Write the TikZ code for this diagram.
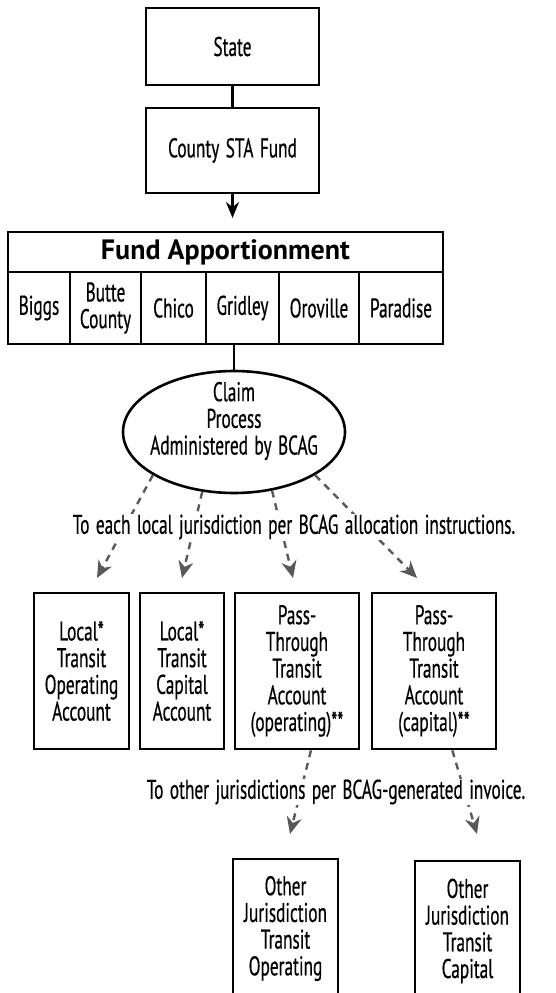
\documentclass[tikz,border=0pt]{standalone}
\usepackage{fontspec}
\setmainfont{PT Sans}[FakeStretch=0.64, FakeBold=0.5, WordSpace=1.4]
\newfontfamily\headfont{PT Sans}
\usetikzlibrary{shapes.geometric,arrows.meta}

\tikzset{
  box/.style={draw, line width=2.6pt, align=center, inner sep=0pt},
  cell/.style={box, minimum height=72},
  flow/.style={line width=2.6pt, -{Stealth[length=16pt,width=13pt]}},
  pass/.style={draw=black!65, line width=2.4pt, dash pattern=on 7pt off 6pt, -{Stealth[length=17pt,width=15pt]}},
  note/.style={fill=white, inner sep=1pt}
}

\begin{document}
\begin{tikzpicture}[x=1pt, y=-1pt, every node/.style={font=\fontsize{27}{26.7}\selectfont}]
  \useasboundingbox (0,0) rectangle (555,993);
  \clip (0,0) rectangle (555,993);

  \node[box, minimum width=173, minimum height=77] (state) at (232.5,46.5) {State};
  \node[box, minimum width=173, minimum height=85] (county) at (232.5,150.5) {County STA Fund};
  \coordinate (fundin) at (232.5,218);
  \draw[line width=2.6pt] (state) -- (county);
  \draw[flow] (county) -- (fundin);

  \node[box, minimum width=435, minimum height=40, font=\headfont\bfseries\fontsize{28}{30}\selectfont] (fund) at (225.5,252) {Fund Apportionment};
  \foreach \n/\cx/\w/\txt in {biggs/39/62/Biggs, butte/105.5/71/{Butte\\County}, chico/173.5/65/Chico,
      gridley/242.5/73/Gridley, oroville/319/80/Oroville, paradise/401/84/Paradise} {
    \node[cell, minimum width=\w] (\n) at (\cx,308) {\txt};
  }

  \node[draw, ellipse, line width=2.6pt, minimum width=222, minimum height=122] (claim) at (234,432) {};
  \node[align=center, inner sep=0pt] (claimtext) at (234,421) {Claim\\Process\\Administered by BCAG};
  \draw[line width=2.6pt] (gridley.south -| claim.north) -- (claim.north);

  \node[box, minimum width=95, minimum height=156] (locop) at (81.5,671) {Local*\\Transit\\Operating\\Account};
  \node[box, minimum width=84, minimum height=156] (locap) at (182,671) {Local*\\Transit\\Capital\\Account};
  \node[box, minimum width=124, minimum height=156] (passop) at (297,671) {Pass-\\Through\\Transit\\Account\\(operating)**};
  \node[box, minimum width=124, minimum height=156] (passcap) at (434,671) {Pass-\\Through\\Transit\\Account\\(capital)**};

  \node[box, minimum width=105, minimum height=139] (otherop) at (285.5,928.5) {Other\\Jurisdiction\\Transit\\Operating};
  \node[box, minimum width=105, minimum height=140] (othercap) at (467.5,931) {Other\\Jurisdiction\\Transit\\Capital};

  % arrow tips stop short of the boxes
  \coordinate (t1) at (97,578);
  \coordinate (t2) at (182,578);
  \coordinate (t3) at (293,578);
  \coordinate (t4) at (417,578);
  \coordinate (t5) at (290,834);
  \coordinate (t6) at (477,834);

  \draw[pass] (claim.208) -- (t1);
  \draw[pass] (claim.242) -- (t2);
  \draw[pass] (claim.303.5) -- (t3);
  \draw[pass] (claim.332.6) -- (t4);
  \draw[pass] (passop.-80) -- (t5);
  \draw[pass] (passcap.-77) -- (t6);

  \node[note] (alloc) at (294,527) {To each local jurisdiction per BCAG allocation instructions.};
  \node[note] (invoice) at (336,792) {To other jurisdictions per BCAG-generated invoice.};
\end{tikzpicture}
\end{document}
